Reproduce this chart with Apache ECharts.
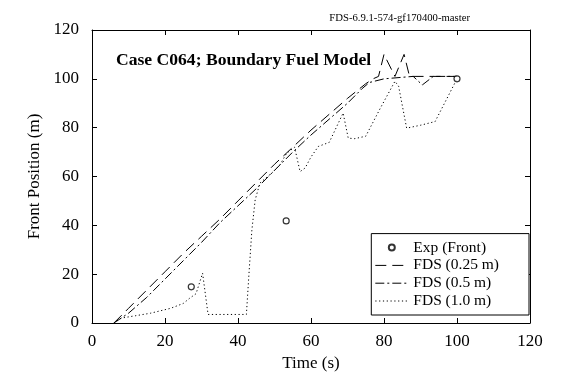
<!DOCTYPE html>
<html>
<head>
<meta charset="utf-8">
<script src="https://cdn.jsdelivr.net/npm/echarts@6/dist/echarts.min.js"></script>
<style>
  html, body { margin: 0; background: #fff; }
  #chart { width: 570px; height: 378px; }
</style>
</head>
<body>
<div id="chart"></div>
<script>
// tick values
const xTicks = [0, 20, 40, 60, 80, 100, 120];
const yTicks = [0, 20, 40, 60, 80, 100, 120];

// Exp (Front)
const expTime = [27.2, 53.2, 100];
const expFront = [14.8, 41.8, 100];

// FDS (0.25 m)
const fds025Time = [6, 10, 15, 20, 25, 30, 35, 40, 45, 50, 55, 60, 65, 70, 75, 77, 78.5, 80, 83, 85.5, 87, 100];
const fds025Front = [0, 6, 13.5, 21, 28.5, 35.5, 42.5, 50, 57.5, 65, 72, 79, 85.5, 92, 98, 100, 101, 110, 101, 110, 101, 101];

// FDS (0.5 m)
const fds05Time = [6, 10, 15, 20, 25, 30, 35, 40, 45, 50, 55, 60, 65, 70, 74, 76, 80, 88, 90.5, 93.5, 100];
const fds05Front = [0, 4, 10.5, 18, 25.5, 33, 41, 48, 55, 62.5, 70, 77, 83.5, 90, 96, 98.5, 100, 101, 97.5, 101, 101];

// FDS (1.0 m)
const fds10Time = [6, 8, 12, 16, 21.5, 25, 26.8, 28.5, 30.3, 31.8, 42.3, 43, 43.8, 44.7, 46, 49.7, 51.5, 53.3, 55.5, 57, 58.4, 60, 62, 65, 68.8, 70.2, 72, 75, 79, 83, 84, 86.2, 90, 94, 100];
const fds10Front = [0, 2, 3, 4, 6, 8, 10.2, 12, 20.4, 3.5, 3.5, 20, 38, 50.4, 57.3, 62, 64.8, 69.5, 72, 62, 63.5, 68, 72.3, 74, 86, 75.7, 75.5, 76.5, 88, 99, 97, 79.8, 81, 82.5, 100];

const pairs = (xs, ys) => xs.map((x, i) => [x, ys[i]]);

const serif = 'Liberation Serif';
const chart = echarts.init(document.getElementById('chart'));

const lineSeries = (name, xs, ys, dash) => ({
  name: name,
  type: 'line',
  data: pairs(xs, ys),
  symbol: 'circle',
  showSymbol: false,
  lineStyle: { color: '#000', width: 1, type: dash },
  itemStyle: { color: '#000' },
  z: 3
});

// 外框：上边和右边的坐标轴只画线和刻度
const frameAxis = (pos, ticks) => ({
  type: 'value',
  position: pos,
  min: ticks[0],
  max: ticks[ticks.length - 1],
  interval: ticks[1] - ticks[0],
  axisLine: { show: true, onZero: false, lineStyle: { color: '#000', width: 1 } },
  axisTick: { show: true, inside: true, length: 5, lineStyle: { color: '#000' } },
  axisLabel: { show: false },
  splitLine: { show: false }
});

const option = {
  backgroundColor: '#fff',
  animation: false,
  textStyle: { fontFamily: serif, color: '#000' },
  title: [
    {
      text: 'Case C064; Boundary Fuel Model',
      left: 111,
      top: 46,
      textStyle: { fontFamily: serif, fontSize: 17.6, fontWeight: 'bold', color: '#000' }
    },
    {
      text: 'FDS-6.9.1-574-gf170400-master',
      right: 95,
      top: 8,
      textStyle: { fontFamily: serif, fontSize: 10.7, fontWeight: 'normal', color: '#000' }
    }
  ],
  grid: { left: 92, right: 40, top: 30, bottom: 55 },
  xAxis: [
    {
      type: 'value',
      min: xTicks[0],
      max: xTicks[xTicks.length - 1],
      interval: xTicks[1] - xTicks[0],
      name: 'Time (s)',
      nameLocation: 'middle',
      nameGap: 32,
      nameTextStyle: { fontFamily: serif, fontSize: 17, color: '#000' },
      axisLine: { onZero: false, lineStyle: { color: '#000', width: 1 } },
      axisTick: { inside: true, length: 5, lineStyle: { color: '#000' } },
      axisLabel: { fontFamily: serif, fontSize: 17, color: '#000', margin: 10 },
      splitLine: { show: false }
    },
    frameAxis('top', xTicks)
  ],
  yAxis: [
    {
      type: 'value',
      min: yTicks[0],
      max: yTicks[yTicks.length - 1],
      interval: yTicks[1] - yTicks[0],
      name: 'Front Position (m)',
      nameLocation: 'middle',
      nameGap: 48,
      nameTextStyle: { fontFamily: serif, fontSize: 17, color: '#000' },
      axisLine: { show: true, onZero: false, lineStyle: { color: '#000', width: 1 } },
      axisTick: { show: true, inside: true, length: 5, lineStyle: { color: '#000' } },
      axisLabel: { fontFamily: serif, fontSize: 17, color: '#000', margin: 13 },
      splitLine: { show: false }
    },
    frameAxis('right', yTicks)
  ],
  legend: {
    orient: 'vertical',
    right: 41,
    bottom: 63,
    padding: [6, 30, 6, 3],
    itemWidth: 33,
    itemHeight: 14,
    itemGap: 1.8,
    backgroundColor: '#fff',
    borderColor: '#000',
    borderWidth: 1,
    borderRadius: 0,
    lineStyle: { width: 1 },
    textStyle: { fontFamily: serif, fontSize: 15.5, color: '#000' },
    data: [
      { name: 'Exp (Front)', icon: 'path://M0,0M33,14M19.5,7A3,3 0 1,1 13.5,7A3,3 0 1,1 19.5,7Z' },
      { name: 'FDS (0.25 m)', itemStyle: { opacity: 0 } },
      { name: 'FDS (0.5 m)', itemStyle: { opacity: 0 } },
      { name: 'FDS (1.0 m)', itemStyle: { opacity: 0 } }
    ]
  },
  series: [
    {
      name: 'Exp (Front)',
      type: 'scatter',
      data: pairs(expTime, expFront),
      symbol: 'circle',
      symbolSize: 6,
      itemStyle: { color: '#fff', borderColor: '#000', borderWidth: 1.2 },
      z: 5
    },
    lineSeries('FDS (0.25 m)', fds025Time, fds025Front, [11, 6]),
    lineSeries('FDS (0.5 m)', fds05Time, fds05Front, [9, 3, 2, 3]),
    lineSeries('FDS (1.0 m)', fds10Time, fds10Front, [1.2, 2.6])
  ]
};

chart.setOption(option);
</script>
</body>
</html>
